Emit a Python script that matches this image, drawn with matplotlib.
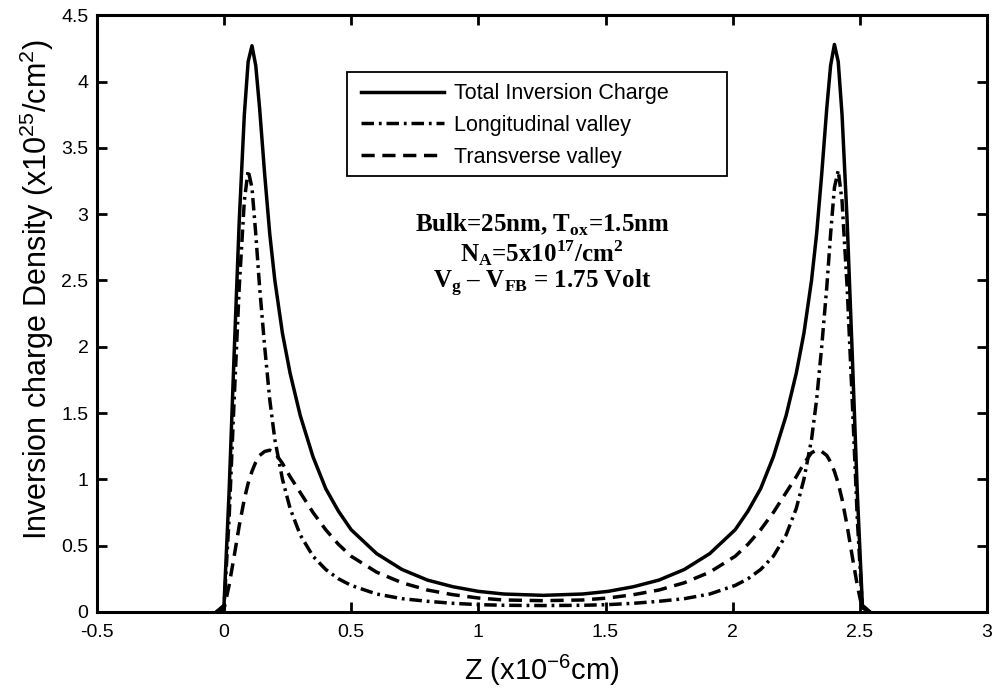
import matplotlib
matplotlib.use("Agg")
import matplotlib.pyplot as plt
from matplotlib.ticker import FormatStrFormatter
from matplotlib.patches import Rectangle

plt.rcParams['font.family'] = ['Liberation Sans', 'DejaVu Sans']
plt.rcParams['axes.unicode_minus'] = False
plt.rcParams['lines.scale_dashes'] = False
plt.rcParams['mathtext.fontset'] = 'custom'
plt.rcParams['mathtext.rm'] = 'Liberation Sans'
plt.rcParams['mathtext.bf'] = 'Liberation Serif:bold'

z = [-0.03, 0.0, 0.02, 0.04, 0.06, 0.08, 0.095, 0.11, 0.125, 0.14,
     0.16, 0.18, 0.20, 0.23, 0.26, 0.30, 0.35, 0.40, 0.45, 0.50,
     0.60, 0.70, 0.80, 0.90, 1.00, 1.10, 1.255,
     1.41, 1.51, 1.61, 1.71, 1.81, 1.91, 2.01,
     2.06, 2.11, 2.16, 2.21, 2.25, 2.28, 2.31, 2.33, 2.35, 2.37,
     2.385, 2.40, 2.415, 2.43, 2.45, 2.47, 2.49, 2.51, 2.54]

total = [0.0, 0.05, 0.9, 1.95, 2.95, 3.75, 4.15, 4.27, 4.12, 3.8,
         3.3, 2.85, 2.5, 2.1, 1.8, 1.48, 1.17, 0.93, 0.76, 0.62,
         0.44, 0.32, 0.24, 0.19, 0.155, 0.135, 0.125,
         0.135, 0.155, 0.19, 0.24, 0.32, 0.44, 0.62,
         0.76, 0.93, 1.17, 1.48, 1.8, 2.1, 2.5, 2.85, 3.3, 3.8,
         4.12, 4.28, 4.15, 3.75, 2.95, 1.95, 0.9, 0.05, 0.0]

longitudinal = [0.0, 0.03, 0.7, 1.6, 2.45, 3.1, 3.33, 3.2, 2.85, 2.45,
                2.0, 1.6, 1.3, 1.0, 0.78, 0.58, 0.42, 0.32, 0.25, 0.2,
                0.135, 0.1, 0.08, 0.065, 0.055, 0.05, 0.048,
                0.05, 0.055, 0.065, 0.08, 0.1, 0.135, 0.2,
                0.25, 0.32, 0.42, 0.58, 0.78, 1.0, 1.3, 1.6, 2.0, 2.45,
                2.85, 3.2, 3.33, 3.1, 2.45, 1.6, 0.7, 0.03, 0.0]

transverse = [0.0, 0.02, 0.2, 0.42, 0.65, 0.85, 0.97, 1.06, 1.13, 1.18,
              1.21, 1.22, 1.2, 1.12, 1.02, 0.9, 0.75, 0.62, 0.51, 0.42,
              0.3, 0.22, 0.165, 0.13, 0.105, 0.09, 0.085,
              0.09, 0.105, 0.13, 0.165, 0.22, 0.3, 0.42,
              0.51, 0.62, 0.75, 0.9, 1.02, 1.12, 1.2, 1.22, 1.21, 1.18,
              1.13, 1.06, 0.97, 0.85, 0.65, 0.42, 0.2, 0.02, 0.0]

labels = ["Total Inversion Charge", "Longitudinal valley", "Transverse valley"]
xticks = [-0.5, 0, 0.5, 1, 1.5, 2, 2.5, 3]
yticks = [0, 0.5, 1, 1.5, 2, 2.5, 3, 3.5, 4, 4.5]

fig = plt.figure(figsize=(9.98, 6.93), dpi=100)
ax = fig.add_axes([0.097, 0.117, 0.892, 0.861])

lw = 2.5
ax.plot(z, total, color='black', lw=lw, linestyle='-', label=labels[0])
ax.plot(z, longitudinal, color='black', lw=lw, linestyle=(0, (9, 3.5, 2, 3.5)), label=labels[1])
ax.plot(z, transverse, color='black', lw=lw, linestyle=(0, (9.5, 5.5)), label=labels[2])

ax.set_xlim(-0.5, 3)
ax.set_ylim(0, 4.5)
ax.set_xticks(xticks)
ax.set_yticks(yticks)
ax.xaxis.set_major_formatter(FormatStrFormatter('%g'))
ax.yaxis.set_major_formatter(FormatStrFormatter('%g'))
ax.tick_params(direction='in', length=7, width=2, top=True, right=True,
               labelsize=14)
ax.tick_params(axis='x', pad=9)
ax.tick_params(axis='y', pad=6)
for s in ax.spines.values():
    s.set_linewidth(2.2)

ax.set_xlabel(r"Z (x10$^{-6}$cm)", fontsize=21, labelpad=8)
ax.set_ylabel(r"Inversion charge Density (x10$^{25}$/cm$^{2}$)", fontsize=22, labelpad=2)
ax.yaxis.set_label_coords(-0.046, 0.54)

# legend box (drawn separately to keep the wide MATLAB-style frame)
ax.add_patch(Rectangle((0.281, 0.730), 0.427, 0.1745, transform=ax.transAxes,
                       facecolor='white', edgecolor='black', lw=1.3, zorder=4))
leg = ax.legend(loc='upper left', bbox_to_anchor=(0.297, 0.886), fontsize=15.5,
                frameon=False, handlelength=3.85, handletextpad=0.45,
                labelspacing=0.5, borderpad=0, borderaxespad=0)
leg.set_zorder(5)

tfont = dict(family='Liberation Serif', weight='bold', fontsize=18, ha='center', va='center')
ax.text(1.25, 2.92, r"Bulk=25nm, T$_{\mathbf{ox}}$=1.5nm", **tfont)
ax.text(1.25, 2.71, r"N$_{\mathbf{A}}$=5x10$^{\mathbf{17}}$/cm$^{\mathbf{2}}$", **tfont)
ax.text(1.25, 2.48, r"V$_{\mathbf{g}}$ – V$_{\mathbf{FB}}$ = 1.75 Volt", **tfont)

fig.savefig("out.png", dpi=100)
